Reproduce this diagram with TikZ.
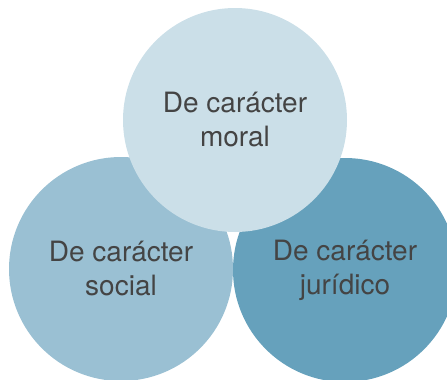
\documentclass[tikz,border=0pt]{standalone}
\usepackage{fontspec}
\setmainfont{TeX Gyre Heros}
\definecolor{ctop}{HTML}{CBDFE8}
\definecolor{cleft}{HTML}{9AC0D3}
\definecolor{cright}{HTML}{66A1BC}
\definecolor{ctext}{HTML}{444444}
\begin{document}
\begin{tikzpicture}[x=1pt,y=-1pt,
  bubble/.style={circle,inner sep=0pt,minimum size=224pt,text=ctext,align=center,
    font=\fontsize{28}{34}\selectfont}]
\useasboundingbox (0,0) rectangle (447,380);
\begin{scope}
\clip (0,0) rectangle (447,380);
\node[bubble,fill=cleft] (soc) at (121,269) {De carácter\\social};
\node[bubble,fill=cright] (jur) at (345,270) {De carácter\\jurídico};
\node[bubble,fill=ctop] (mor) at (235,120) {De carácter\\moral};
\end{scope}
\end{tikzpicture}
\end{document}
